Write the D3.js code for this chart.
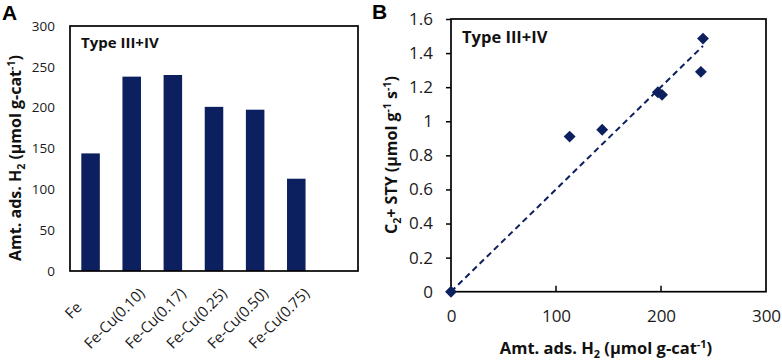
<!DOCTYPE html>
<html>
<head>
<meta charset="utf-8">
<script src="https://cdn.jsdelivr.net/npm/d3@7/dist/d3.min.js"></script>
<style>
  html, body { margin: 0; padding: 0; background: #fff; }
  svg { display: block; font-family: "Open Sans", "Liberation Sans", sans-serif; }
</style>
</head>
<body>
<svg id="chart" width="782" height="362"></svg>
<script>
// ---- Data ----
const categories = ["Fe", "Fe-Cu(0.10)", "Fe-Cu(0.17)", "Fe-Cu(0.25)", "Fe-Cu(0.50)", "Fe-Cu(0.75)"];
const h2Adsorbed = [144, 238, 240, 201, 197.5, 113];
const barTicks = [0, 50, 100, 150, 200, 250, 300];

const scatterX = [0, 113, 144, 197, 201, 238, 240];
const scatterY = [0, 0.91, 0.95, 1.17, 1.155, 1.29, 1.485];
const trendX = [0, 240];
const trendY = [0, 1.442];
const scatterXTicks = [0, 100, 200, 300];
const scatterYTicks = [0, 0.2, 0.4, 0.6, 0.8, 1, 1.2, 1.4, 1.6];
const yTickLabelsB = ["0", "0.2", "0.4", "0.6", "0.8", "1", "1.2", "1.4", "1.6"];

const NAVY = "#0c1f5e";
const TXT = "#1a1a1a";
const svg = d3.select("#chart");

function addTitle(sel, parts, size) {
  let prev = 0;
  parts.forEach(([t, kind]) => {
    const off = kind === "sub" ? 3.5 : kind === "sup" ? -6.5 : 0;
    sel.append("tspan")
      .attr("font-size", kind === "n" ? size : size * 0.66)
      .attr("dy", off - prev)
      .text(t);
    prev = off;
  });
}

// ---- Panel A ----
const A = { left: 70, right: 358, top: 26, bottom: 271 };
const xA = d3.scaleBand().domain(categories.concat([""])).range([A.left, A.right]).paddingInner(0.55).paddingOuter(0.275);
const yA = d3.scaleLinear().domain([0, 300]).range([A.bottom, A.top]);

const gA = svg.append("g");
gA.selectAll("rect.bar").data(categories).enter().append("rect")
  .attr("class", "bar")
  .attr("x", d => xA(d))
  .attr("width", xA.bandwidth())
  .attr("y", (d, i) => yA(h2Adsorbed[i]))
  .attr("height", (d, i) => yA(0) - yA(h2Adsorbed[i]))
  .attr("fill", NAVY);

gA.append("rect").attr("x", A.left).attr("y", A.top)
  .attr("width", A.right - A.left).attr("height", A.bottom - A.top)
  .attr("fill", "none").attr("stroke", "#000").attr("stroke-width", 1.7);

const gAy = gA.append("g").attr("transform", `translate(${A.left},0)`)
  .call(d3.axisLeft(yA).tickValues(barTicks).tickSize(0).tickPadding(15));
gAy.select(".domain").remove();
gAy.selectAll("text").attr("font-size", 13.5).attr("fill", TXT).attr("font-family", '"Open Sans", sans-serif');

// rotated category labels
gA.selectAll("text.cat").data(categories).enter().append("text")
  .attr("class", "cat")
  .attr("font-size", 15).attr("fill", TXT)
  .attr("text-anchor", "middle").attr("dominant-baseline", "middle")
  .text(d => d)
  .each(function(d) {
    const w = this.getComputedTextLength();
    const cx = xA(d) + xA.bandwidth() / 2 - 16.5;
    const cy = 309 + 0.13 * w;
    d3.select(this).attr("transform", `translate(${cx},${cy}) rotate(-45)`);
  });

gA.append("text").attr("x", 81).attr("y", 48)
  .attr("font-size", 15).attr("font-weight", "bold").attr("fill", "#111")
  .text("Type III+IV");

// y title A
const tA = gA.append("text").attr("transform", "translate(21,158) rotate(-90)")
  .attr("text-anchor", "middle").attr("font-weight", "bold").attr("fill", "#111");
addTitle(tA, [["Amt. ads. H", "n"], ["2", "sub"], [" (μmol g-cat", "n"], ["-1", "sup"], [")", "n"]], 16);

svg.append("text").attr("x", 2).attr("y", 20).attr("font-size", 21).attr("font-weight", "bold")
  .attr("font-family", '"Liberation Sans", Arial, sans-serif').text("A");

// ---- Panel B ----
const B = { left: 451, right: 766, top: 19, bottom: 291.7 };
const xB = d3.scaleLinear().domain([0, 300]).range([B.left, B.right]);
const yB = d3.scaleLinear().domain([0, 1.6]).range([B.bottom, B.top]);
const gB = svg.append("g");

gB.append("rect").attr("x", B.left).attr("y", B.top)
  .attr("width", B.right - B.left).attr("height", B.bottom - B.top)
  .attr("fill", "none").attr("stroke", "#000").attr("stroke-width", 1.7);

const gBy = gB.append("g").attr("transform", `translate(${B.left},0)`)
  .call(d3.axisLeft(yB).tickValues(scatterYTicks).tickFormat((d, i) => yTickLabelsB[i]).tickSize(5).tickPadding(13));
gBy.select(".domain").remove();
gBy.selectAll("line").attr("stroke", "#000").attr("stroke-width", 1.5);
gBy.selectAll("text").attr("font-size", 17).attr("fill", TXT).attr("font-family", '"Open Sans", sans-serif');

const gBx = gB.append("g").attr("transform", `translate(0,${B.bottom})`)
  .call(d3.axisBottom(xB).tickValues(scatterXTicks).tickSize(0).tickPadding(18));
gBx.select(".domain").remove();
gBx.selectAll("text").attr("font-size", 17).attr("fill", TXT).attr("font-family", '"Open Sans", sans-serif');
gB.selectAll("line.xt").data(scatterXTicks.slice(1, -1)).enter().append("line")
  .attr("x1", d => xB(d)).attr("x2", d => xB(d))
  .attr("y1", B.bottom).attr("y2", B.bottom - 6)
  .attr("stroke", "#000").attr("stroke-width", 1.5);

// trendline
const line = d3.line().x(d => xB(d[0])).y(d => yB(d[1]));
gB.append("path").datum(d3.zip(trendX, trendY)).attr("d", line)
  .attr("fill", "none").attr("stroke", NAVY).attr("stroke-width", 2).attr("stroke-dasharray", "6,4");

// diamonds
const diamond = d3.symbol().type(d3.symbolDiamond2).size(90);
gB.selectAll("path.pt").data(d3.zip(scatterX, scatterY)).enter().append("path")
  .attr("class", "pt")
  .attr("d", diamond)
  .attr("transform", d => `translate(${xB(d[0])},${yB(d[1])})`)
  .attr("fill", NAVY);

gB.append("text").attr("x", 462).attr("y", 43)
  .attr("font-size", 16.5).attr("font-weight", "bold").attr("fill", "#111")
  .text("Type III+IV");

// x title B
const txB = gB.append("text").attr("x", 606).attr("y", 354)
  .attr("text-anchor", "middle").attr("font-weight", "bold").attr("fill", "#111");
addTitle(txB, [["Amt. ads. H", "n"], ["2", "sub"], [" (μmol g-cat", "n"], ["-1", "sup"], [")", "n"]], 16.5);

// y title B
const tyB = gB.append("text").attr("transform", "translate(397,155) rotate(-90)")
  .attr("text-anchor", "middle").attr("font-weight", "bold").attr("fill", "#111");
addTitle(tyB, [["C", "n"], ["2", "sub"], ["+ STY (μmol g", "n"], ["-1", "sup"], [" s", "n"], ["-1", "sup"], [")", "n"]], 16);

svg.append("text").attr("x", 372).attr("y", 19).attr("font-size", 21).attr("font-weight", "bold")
  .attr("font-family", '"Liberation Sans", Arial, sans-serif').text("B");
</script>
</body>
</html>
